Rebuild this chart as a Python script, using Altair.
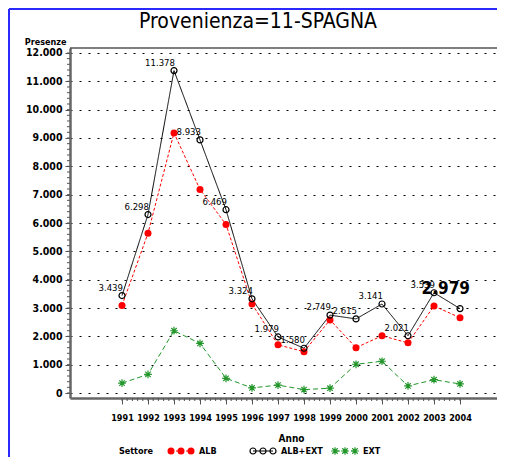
import altair as alt
import pandas as pd

# ---------------- data ----------------
years = list(range(1991, 2005))
series_names = ["ALB", "ALB+EXT", "EXT"]
alb = [3090, 5640, 9180, 7183, 5949, 3144, 1700, 1460, 2580, 1600, 2020, 1770, 3070, 2660]
alb_ext = [3439, 6298, 11378, 8933, 6469, 3324, 1979, 1580, 2749, 2615, 3141, 2021, 3539, 2979]
ext = [349, 658, 2198, 1750, 520, 180, 279, 120, 169, 1015, 1121, 251, 469, 319]
title_text = "Provenienza=11-SPAGNA"
y_title = "Presenze"
x_title = "Anno"
legend_title = "Settore"

values = {"ALB": alb, "ALB+EXT": alb_ext, "EXT": ext}
rows = []
for s in series_names:
    for yr, v in zip(years, values[s]):
        rows.append({"Anno": yr, "Settore": s, "Presenze": v})
df = pd.DataFrame(rows)
legend_df = pd.DataFrame({"Settore": series_names})

# ---------------- styles ----------------
W, H = 427, 350
PAD = {"left": 62, "top": 40, "right": 0, "bottom": 59}
colors = {"ALB": "#ff0000", "ALB+EXT": "#000000", "EXT": "#22962a"}
dashes = {"ALB": [3, 2], "ALB+EXT": [1, 0], "EXT": [5, 3]}
asterisk = "M-1,0L1,0M0,-1L0,1M-0.7,-0.7L0.7,0.7M-0.7,0.7L0.7,-0.7"
shapes = {"ALB": "circle", "ALB+EXT": "circle", "EXT": asterisk}
filled = {"ALB": True, "ALB+EXT": False, "EXT": False}
sizes = {"ALB": 49, "ALB+EXT": 36, "EXT": 60}
legend_x = {"ALB": 111, "ALB+EXT": 193, "EXT": 275}
FONT = "DejaVu Sans Condensed"
thousands = "replace(format(datum.value, ','), ',', '.')"

xscale = alt.Scale(domain=[1989, 1989 + W / 26.0], nice=False, zero=False)
yscale = alt.Scale(domain=[-176, 12176], nice=False, zero=False)

X = alt.X("Anno:Q", scale=xscale,
          axis=alt.Axis(values=years, format="d", title=x_title, grid=False,
                        tickSize=6, labelPadding=9, labelFont=FONT, labelFontSize=9,
                        labelFontWeight="bold", titleFont=FONT, titleFontSize=10,
                        titleFontWeight="bold", titleX=221, titleY=40,
                        titleBaseline="middle", labelFlush=False))
Y = alt.Y("Presenze:Q", scale=yscale,
          axis=alt.Axis(values=list(range(0, 12001, 1000)), labelExpr=thousands,
                        title=y_title, grid=True, gridDash=[2, 7], gridColor="#000000",
                        gridWidth=1, tickSize=5, labelPadding=3, labelFont=FONT,
                        labelFontSize=10.5, labelFontWeight="bold", titleAngle=0,
                        titleAlign="right", titleBaseline="bottom", titleX=-4, titleY=-2,
                        titleFont=FONT, titleFontSize=9, titleFontWeight="bold",
                        labelFlush=False))

one = pd.DataFrame({"k": [0]})
layers = []
# title
layers.append(alt.Chart(pd.DataFrame({"t": [title_text]}))
              .mark_text(align="center", baseline="middle", font=FONT, fontSize=21,
                         color="#000000")
              .encode(x=alt.value(188), y=alt.value(-26), text="t:N"))
# top frame line
layers.append(alt.Chart(one).mark_rule(color="#000000", strokeWidth=1.2)
              .encode(x=alt.value(0), x2=alt.value(W), y=alt.value(0)))
# blue border
layers.append(alt.Chart(one).mark_rule(color="#2a2aff", strokeWidth=2)
              .encode(x=alt.value(-61), x2=alt.value(W), y=alt.value(-39)))
layers.append(alt.Chart(one).mark_rule(color="#2a2aff", strokeWidth=2)
              .encode(x=alt.value(-61), y=alt.value(-39), y2=alt.value(H + 59)))

# minor ticks
layers.append(alt.Chart(alt.sequence(1991, 2004.01, 0.2, as_="Anno")).mark_rule(color="#555555")
              .encode(x=X, y=alt.value(H), y2=alt.value(H + 3)))
layers.append(alt.Chart(alt.sequence(0, 12001, 200, as_="Presenze")).mark_rule(color="#555555")
              .encode(y=Y, x=alt.value(0), x2=alt.value(-3)))

for s in series_names:
    sub = alt.Chart(df).transform_filter(alt.datum.Settore == s)
    layers.append(sub.mark_line(color=colors[s], strokeWidth=1, strokeDash=dashes[s])
                  .encode(x=X, y=Y))
for s in series_names:
    sub = alt.Chart(df).transform_filter(alt.datum.Settore == s)
    layers.append(sub.mark_point(color=colors[s], shape=shapes[s], filled=filled[s],
                                 size=sizes[s], strokeWidth=1.2, opacity=1)
                  .encode(x=X, y=Y))

# value labels for ALB+EXT
lab = (alt.Chart(df).transform_filter(alt.datum.Settore == "ALB+EXT")
       .transform_calculate(lbl="replace(format(datum.Presenze, ','), ',', '.')"))
layers.append(lab.transform_filter(alt.datum.Anno < 2004)
              .mark_text(align="right", baseline="middle", dx=1, dy=-8, font=FONT,
                         fontSize=9.5, color="#000000")
              .encode(x=X, y=Y, text="lbl:N"))
layers.append(lab.transform_filter(alt.datum.Anno == 2004)
              .mark_text(align="right", baseline="middle", dx=10, dy=-20, font=FONT,
                         fontSize=17, fontWeight="bold", color="#000000")
              .encode(x=X, y=Y, text="lbl:N"))

# legend
LY = 403
for s in series_names:
    sub = alt.Chart(legend_df).transform_filter(alt.datum.Settore == s)
    cx = legend_x[s]
    layers.append(sub.mark_rule(color=colors[s], strokeWidth=1, strokeDash=dashes[s])
                  .encode(x=alt.value(cx - 10), x2=alt.value(cx + 10), y=alt.value(LY)))
    for off in (-10, 0, 10):
        layers.append(sub.mark_point(color=colors[s], shape=shapes[s], filled=filled[s],
                                     size=sizes[s], strokeWidth=1.2, opacity=1)
                      .encode(x=alt.value(cx + off), y=alt.value(LY)))
    layers.append(sub.mark_text(align="left", baseline="middle", font=FONT,
                                fontSize=9, fontWeight="bold", color="#000000")
                  .encode(x=alt.value(cx + 18), y=alt.value(LY), text="Settore:N"))
layers.append(alt.Chart(pd.DataFrame({"t": [legend_title]}))
              .mark_text(align="right", baseline="middle", font=FONT, fontSize=9,
                         fontWeight="bold", color="#000000")
              .encode(x=alt.value(83), y=alt.value(LY), text="t:N"))

chart = (alt.layer(*layers)
         .properties(width=W, height=H, padding=PAD,
                     autosize=alt.AutoSizeParams(type="none"))
         .configure_view(stroke=None)
         .configure_axis(domainColor="#666666", domainWidth=2.5, tickColor="#555555",
                         labelColor="#000000", titleColor="#000000"))

chart.save("out.html", embed_options={"renderer": "svg", "actions": False})
